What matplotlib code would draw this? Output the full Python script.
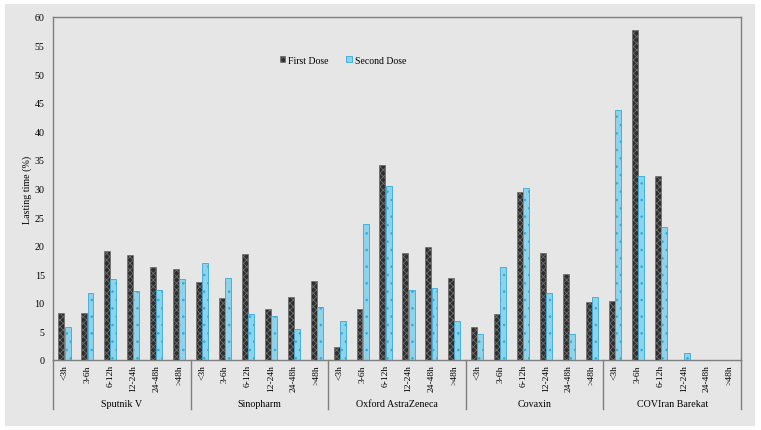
import matplotlib

matplotlib.use("Agg")
import matplotlib.pyplot as plt
import numpy as np
from matplotlib.patches import Rectangle

plt.rcParams["font.family"] = ["Liberation Serif", "DejaVu Serif"]
plt.rcParams["hatch.linewidth"] = 0.6

vaccines = ["Sputnik V", "Sinopharm", "Oxford AstraZeneca", "Covaxin", "COVIran Barekat"]
durations = ["<3h", "3-6h", "6-12h", "12-24h", "24-48h", ">48h"]

first_dose = [
    8.2, 8.2, 19.1, 18.4, 16.2, 16.0,      # Sputnik V
    13.6, 10.9, 18.5, 9.0, 11.1, 13.9,     # Sinopharm
    2.3, 8.9, 34.1, 18.7, 19.8, 14.3,      # Oxford AstraZeneca
    5.8, 8.0, 29.4, 18.7, 15.0, 10.1,      # Covaxin
    10.4, 57.8, 32.2, 0.0, 0.0, 0.0,       # COVIran Barekat
]
second_dose = [
    5.8, 11.7, 14.2, 12.1, 12.2, 14.2,
    17.0, 14.3, 8.1, 7.7, 5.5, 9.3,
    6.8, 23.8, 30.4, 12.2, 12.6, 6.8,
    4.5, 16.2, 30.1, 11.8, 4.5, 11.0,
    43.7, 32.2, 23.2, 1.3, 0.0, 0.0,
]

BG = "#e6e6e6"
LINE = "#7f7f7f"

fig = plt.figure(figsize=(7.61, 4.31), dpi=100, facecolor="white")
fig.patches.append(Rectangle((5 / 761, 4 / 431), 750 / 761, 422 / 431,
                             transform=fig.transFigure, facecolor=BG,
                             edgecolor="none", zorder=-10))
ax = fig.add_axes([53 / 761, 1 - 361 / 431, 688 / 761, 343 / 431])
ax.set_zorder(5)
ax.set_facecolor(BG)

n = len(first_dose)
x = np.arange(n)
w = 0.26
ax.bar(x - 0.135, first_dose, w, color="#2e2e2e", edgecolor="#6e6e6e",
       hatch="xxxxx", lw=0.5, label="First Dose", zorder=2)
ax.bar(x + 0.135, second_dose, w, color="#8fd3eb", edgecolor="#34aad9",
       hatch="..", lw=0.6, label="Second Dose", zorder=2)

ax.set_xlim(-0.5, n - 0.5)
ax.set_ylim(0, 60)
ax.set_yticks(np.arange(0, 61, 5))
ax.tick_params(axis="y", length=0, labelsize=7.2, pad=6)
ax.set_xticks(x)
ax.set_xticklabels(durations * len(vaccines), rotation=90, fontsize=6.8)
ax.tick_params(axis="x", length=0, pad=3)
for s in ax.spines.values():
    s.set_color(LINE)
    s.set_linewidth(1.0)
ax.set_ylabel("Lasting time (%)", fontsize=7.2, labelpad=1.5)

# group separators and group names below the category labels
trans = ax.get_xaxis_transform()
ng = len(durations)
for g in range(len(vaccines) + 1):
    xb = g * ng - 0.5
    ax.plot([xb, xb], [0, -0.143], transform=trans, color=LINE, lw=1.0,
            clip_on=False)
for g, name in enumerate(vaccines):
    ax.text(g * ng + (ng - 1) / 2, -0.128, name, transform=trans,
            ha="center", va="center", fontsize=7.2)

ax.legend(loc="center", bbox_to_anchor=(343 / 761, 1 - 61 / 431),
          bbox_transform=fig.transFigure, ncol=2, frameon=False,
          fontsize=7, handlelength=0.6, handleheight=0.6, handletextpad=0.3,
          columnspacing=1.8)

fig.savefig("out.png", dpi=100, facecolor=fig.get_facecolor())
